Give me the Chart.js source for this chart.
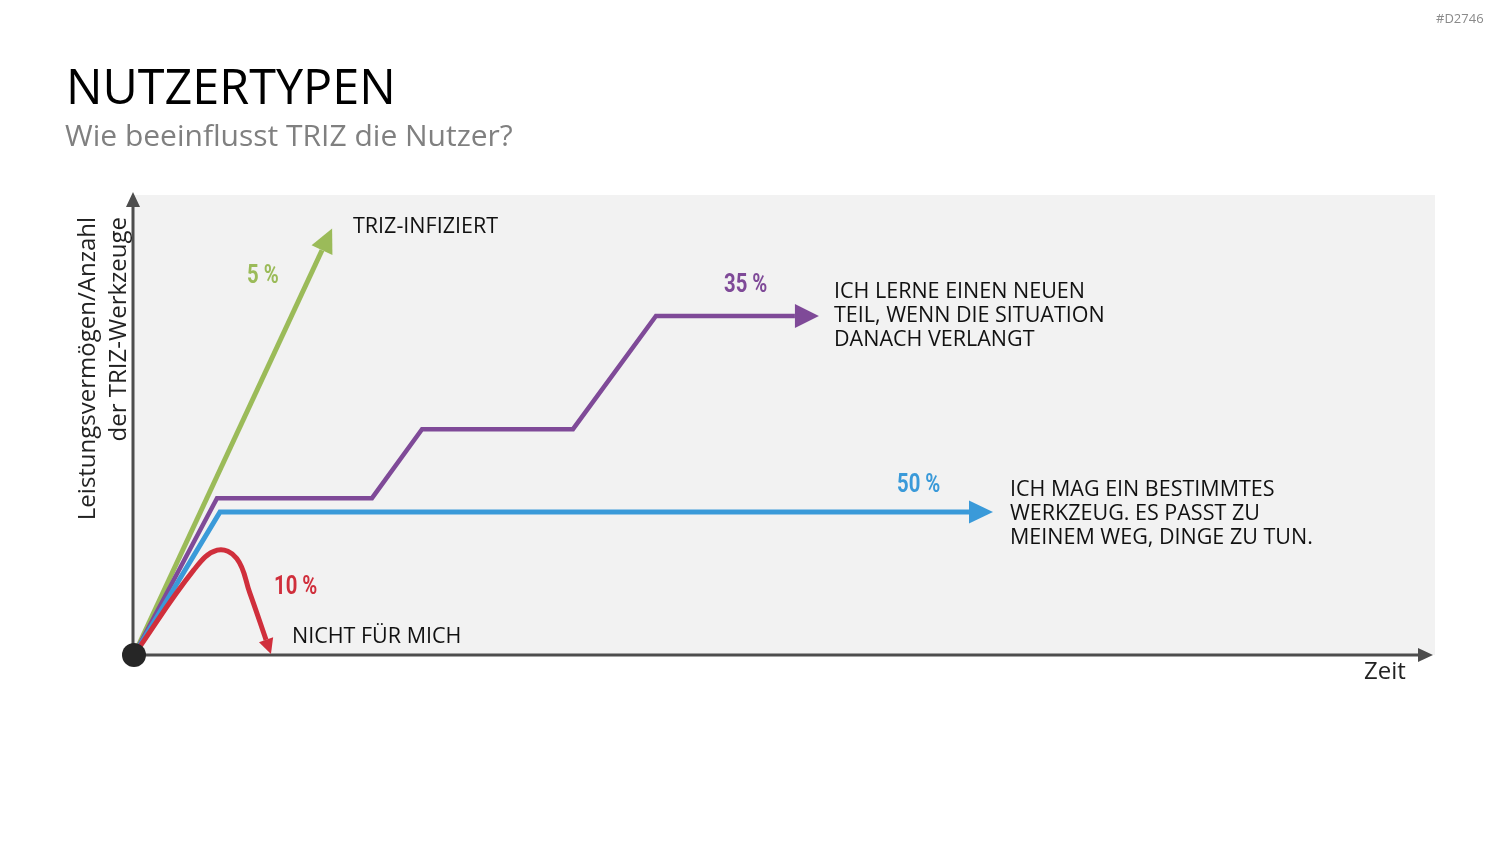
<!DOCTYPE html>
<html>
<head>
<meta charset="utf-8">
<script src="https://cdn.jsdelivr.net/npm/chart.js@4/dist/chart.umd.min.js"></script>
<style>
  html, body { margin: 0; padding: 0; background: #fff; }
  #wrap { position: relative; width: 1500px; height: 844px; overflow: hidden; font-family: "Open Sans", sans-serif; }
  #chart { position: absolute; left: 0; top: 0; }
  .t { position: absolute; white-space: nowrap; line-height: 1; }
  .pct { font-family: "Roboto", "Open Sans", sans-serif; font-weight: bold; font-size: 26px; transform-origin: 0 50%; transform: scaleX(0.78); }
  .lbl { font-size: 21.5px; color: #111; line-height: 24px; }
</style>
</head>
<body>
<div id="wrap">
  <canvas id="chart" width="1500" height="844"></canvas>

  <div class="t" style="left:1436px;top:12px;font-size:13px;color:#8a8a8a;">#D2746</div>
  <div class="t" style="left:66px;top:61px;font-size:48.5px;color:#000;">NUTZERTYPEN</div>
  <div class="t" style="left:65px;top:120px;font-size:30px;color:#808080;">Wie beeinflusst TRIZ die Nutzer?</div>

  <div class="t" style="left:70px;top:529px;width:312px;font-size:24px;line-height:31px;color:#222;text-align:right;transform-origin:0 0;transform:rotate(-90deg);">Leistungsvermögen/Anzahl<br>der TRIZ-Werkzeuge</div>
  <div class="t" style="left:1364px;top:658px;font-size:24px;color:#222;">Zeit</div>

  <div class="t pct" style="left:247px;top:261px;color:#9bbb59;">5 %</div>
  <div class="t pct" style="left:724px;top:270px;color:#7f4a98;">35 %</div>
  <div class="t pct" style="left:897px;top:470px;color:#3a9ad9;">50 %</div>
  <div class="t pct" style="left:274px;top:572px;color:#d02f3c;">10 %</div>

  <div class="t lbl" style="left:353px;top:213px;">TRIZ-INFIZIERT</div>
  <div class="t lbl" style="left:834px;top:278px;">ICH LERNE EINEN NEUEN<br>TEIL, WENN DIE SITUATION<br>DANACH VERLANGT</div>
  <div class="t lbl" style="left:1010px;top:476px;">ICH MAG EIN BESTIMMTES<br>WERKZEUG. ES PASST ZU<br>MEINEM WEG, DINGE ZU TUN.</div>
  <div class="t lbl" style="left:292px;top:623px;">NICHT FÜR MICH</div>
</div>

<script>
// series (x = Zeit, y = Leistungsvermögen), both 0..100
const xGreen  = [0, 14.45];
const yGreen  = [0, 88.0];
const xPurple = [0, 6.38, 18.29, 22.14, 33.74, 40.12, 50.8];
const yPurple = [0, 34.1, 34.1, 49.1, 49.1, 73.7, 73.7];
const xBlue   = [0, 6.61, 64.18];
const yBlue   = [0, 31.1, 31.1];
const xRed    = [0, 4.6, 6.4, 7.9, 8.9, 10.15];
const yRed    = [0, 18.5, 22.8, 21.0, 13.5, 3.3];

function pts(xs, ys) {
    return xs.map((x, i) => ({ x: x, y: ys[i] }));
}

function lineSet(xs, ys, color, width, arrow) {
    return {
        data: pts(xs, ys),
        borderColor: color,
        backgroundColor: color,
        borderWidth: width,
        pointRadius: 0,
        fill: false,
        tension: 0,
        borderJoinStyle: 'miter',
        borderCapStyle: 'butt',
        clip: false,
        arrow: arrow
    };
}

function triangle(ctx, x, y, ang, len, wid, color) {
    ctx.save();
    ctx.translate(x, y);
    ctx.rotate(ang);
    ctx.beginPath();
    ctx.moveTo(len, 0);
    ctx.lineTo(0, -wid / 2);
    ctx.lineTo(0, wid / 2);
    ctx.closePath();
    ctx.fillStyle = color;
    ctx.fill();
    ctx.restore();
}

// grey plot area + arrowed axes
const backdrop = {
    id: 'backdrop',
    beforeDatasetsDraw(chart) {
        const { ctx, chartArea: a } = chart;
        ctx.save();
        ctx.fillStyle = '#f2f2f2';
        ctx.fillRect(a.left, a.top, a.right - a.left, a.bottom - a.top);
        ctx.strokeStyle = '#4d4d4d';
        ctx.lineWidth = 3;
        ctx.beginPath();
        ctx.moveTo(a.left - 1, a.bottom);
        ctx.lineTo(a.left - 1, a.top + 10);
        ctx.moveTo(a.left - 1, a.bottom);
        ctx.lineTo(a.right - 15, a.bottom);
        ctx.stroke();
        ctx.restore();
        triangle(ctx, a.left - 1, a.top + 12, -Math.PI / 2, 15, 14, '#4d4d4d');
        triangle(ctx, a.right - 17, a.bottom, 0, 15, 14, '#4d4d4d');
    }
};

// arrow heads at the end of each series
const arrowHeads = {
    id: 'arrowHeads',
    afterDatasetsDraw(chart) {
        const ctx = chart.ctx;
        chart.data.datasets.forEach((ds, i) => {
            if (!ds.arrow) return;
            const m = chart.getDatasetMeta(i).data;
            const p = m[m.length - 1], q = m[m.length - 2];
            let ang = Math.atan2(p.y - q.y, p.x - q.x);
            if (p.cp1x !== undefined && (p.cp1x !== p.x || p.cp1y !== p.y)) {
                ang = Math.atan2(p.y - p.cp1y, p.x - p.cp1x);
            }
            triangle(ctx, p.x, p.y, ang, ds.arrow[0], ds.arrow[1], ds.borderColor);
        });
    }
};

new Chart(document.getElementById('chart'), {
    type: 'line',
    data: {
        datasets: [
            {
                data: [{ x: 0, y: 0 }],
                showLine: false,
                pointRadius: 12,
                pointHoverRadius: 12,
                pointBackgroundColor: '#262626',
                pointBorderWidth: 0,
                clip: false,
                order: 0
            },
            Object.assign(lineSet(xRed, yRed, '#d02f3c', 5, [15, 15]), { tension: 0.4, order: 1 }),
            Object.assign(lineSet(xBlue, yBlue, '#3a9ad9', 5, [24, 23]), { order: 2 }),
            Object.assign(lineSet(xPurple, yPurple, '#7f4a98', 4.5, [24, 24]), { order: 3 }),
            Object.assign(lineSet(xGreen, yGreen, '#9bbb59', 5, [24, 23]), { order: 4 })
        ]
    },
    options: {
        responsive: false,
        animation: false,
        events: [],
        layout: { padding: { left: 134, right: 65, top: 195, bottom: 189 } },
        scales: {
            x: { type: 'linear', min: 0, max: 100, display: false },
            y: { type: 'linear', min: 0, max: 100, display: false }
        },
        plugins: {
            legend: { display: false },
            tooltip: { enabled: false }
        }
    },
    plugins: [backdrop, arrowHeads]
});
</script>
</body>
</html>
